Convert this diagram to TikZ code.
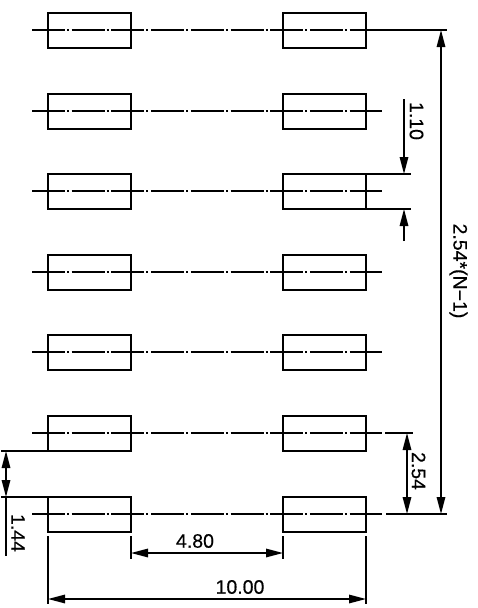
\documentclass[tikz,border=0pt]{standalone}
\usepackage{fontspec}
\newfontfamily\dimfont[FakeBold=0.4]{Liberation Sans}
\usetikzlibrary{arrows.meta}
\tikzset{
  ln/.style={line width=1.5pt,black},
  pad/.style={ln,draw,minimum width=83pt,minimum height=35pt,inner sep=0pt,outer sep=0pt},
  centre/.style={ln,dash pattern=on 33pt off 2pt on 2pt off 2.7pt},
  dim/.style={ln,{Triangle[length=17pt,width=8.5pt]}-{Triangle[length=17pt,width=8.5pt]}},
  tipend/.style={ln,-{Triangle[length=17pt,width=8.5pt]}},
  lbl/.style={font=\dimfont\fontsize{19.5pt}{19.5pt}\selectfont,inner sep=0pt},
  lblr/.style={lbl,rotate=-90}
}
\begin{document}
\begin{tikzpicture}[x=1pt,y=-1pt]
\useasboundingbox (0,0) rectangle (477,608);
\foreach \n/\y/\yb in {1/30/30.5,2/111/111.5,3/191/191.5,4/272/272.5,5/352/352.5,6/433/433.5,7/514/514.5}{
  \coordinate (cl\n) at (32,\y);
  \coordinate (cr\n) at (382,\y);
  \draw[centre] (cl\n) -- (cr\n);
  \node[pad] (a\n) at (89.5,\yb) {};
  \node[pad] (b\n) at (324.5,\yb) {};
}
% overall pitch
\coordinate (e1) at (447,30);
\coordinate (e7s) at (386,514);
\coordinate (e7) at (447,514);
\coordinate (e6s) at (385,433);
\coordinate (e6) at (413,433);
\draw[ln] (cr1) -- (e1);
\draw[ln] (e7s) -- (e7);
\draw[ln] (e6s) -- (e6);
\coordinate (p1) at (441,30);
\coordinate (p7) at (441,514);
\draw[dim] (p1) -- (p7);
\node[lblr] (t1) at (458.5,271) {2.54*(N−1)};
\coordinate (q6) at (407,433);
\coordinate (q7) at (407,514);
\draw[dim] (q6) -- (q7);
\node[lblr] (t2) at (418.5,471) {2.54};
% 1.10
\coordinate (f1) at (411,174);
\coordinate (f2) at (411,209);
\draw[ln] (b3.north east) -- (f1);
\draw[ln] (b3.south east) -- (f2);
\coordinate (g0) at (404,99);
\coordinate (g1) at (404,174);
\coordinate (g2) at (404,209);
\coordinate (g3) at (404,241);
\draw[tipend] (g0) -- (g1);
\draw[tipend] (g3) -- (g2);
\node[lblr] (t3) at (416.5,121) {1.10};
% 1.44
\coordinate (h1) at (1,451);
\coordinate (h2) at (1,497);
\draw[ln] (h1) -- (a6.south west);
\draw[ln] (h2) -- (a7.north west);
\coordinate (k1) at (6,451);
\coordinate (k2) at (6,497);
\coordinate (k3) at (6,556);
\draw[dim] (k1) -- (k2);
\draw[ln] (k2) -- (k3);
\node[lblr] (t4) at (18,533) {1.44};
% 4.80
\coordinate (m1) at (131,536);
\coordinate (m2) at (131,559);
\coordinate (m3) at (283,536);
\coordinate (m4) at (283,559);
\draw[ln] (m1) -- (m2);
\draw[ln] (m3) -- (m4);
\coordinate (n1) at (131,553);
\coordinate (n2) at (283,553);
\draw[dim] (n1) -- (n2);
\node[lbl] (t5) at (195,541) {4.80};
% 10.00
\coordinate (r1) at (48,536);
\coordinate (r2) at (48,604);
\coordinate (r3) at (366,536);
\coordinate (r4) at (366,604);
\draw[ln] (r1) -- (r2);
\draw[ln] (r3) -- (r4);
\coordinate (s1) at (48,599);
\coordinate (s2) at (366,599);
\draw[dim] (s1) -- (s2);
\node[lbl] (t6) at (240,587) {10.00};
\end{tikzpicture}
\end{document}
